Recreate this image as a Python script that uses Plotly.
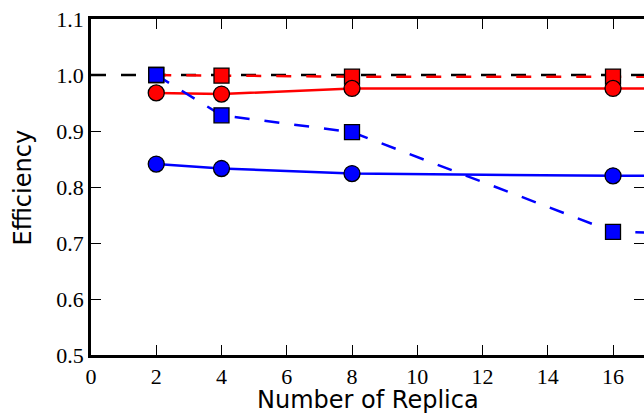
import plotly.graph_objects as go

replicas = [2, 4, 8, 16, 32]
red_solid = [0.968, 0.966, 0.976, 0.976, 0.976]
red_dashed = [1.0, 0.999, 0.997, 0.997, 0.997]
blue_dashed = [1.0, 0.928, 0.898, 0.720, 0.700]
blue_solid = [0.841, 0.833, 0.824, 0.820, 0.818]
ideal_x = [0, 40]
ideal_y = [1.0, 1.0]

x_ticks = [0, 2, 4, 6, 8, 10, 12, 14, 16]
y_ticks = [0.5, 0.6, 0.7, 0.8, 0.9, 1.0, 1.1]

x_title = "Number of Replica"
y_title = "Efficiency"

RED = "#ff0000"
BLUE = "#0000ff"
dash = "15px,15px"

fig = go.Figure()
fig.add_trace(go.Scatter(x=ideal_x, y=ideal_y, mode="lines",
                         line=dict(color="black", width=2.5, dash=dash), showlegend=False))
fig.add_trace(go.Scatter(x=replicas, y=red_dashed, mode="lines+markers",
                         line=dict(color=RED, width=2.5, dash=dash),
                         marker=dict(symbol="square", size=15, color=RED, line=dict(color="black", width=1.3)),
                         showlegend=False))
fig.add_trace(go.Scatter(x=replicas, y=red_solid, mode="lines+markers",
                         line=dict(color=RED, width=2.5),
                         marker=dict(symbol="circle", size=16, color=RED, line=dict(color="black", width=1.3)),
                         showlegend=False))
fig.add_trace(go.Scatter(x=replicas, y=blue_dashed, mode="lines+markers",
                         line=dict(color=BLUE, width=2.5, dash=dash),
                         marker=dict(symbol="square", size=15, color=BLUE, line=dict(color="black", width=1.3)),
                         showlegend=False))
fig.add_trace(go.Scatter(x=replicas, y=blue_solid, mode="lines+markers",
                         line=dict(color=BLUE, width=2.5),
                         marker=dict(symbol="circle", size=16, color=BLUE, line=dict(color="black", width=1.3)),
                         showlegend=False))
# invisible trace to activate the mirror axes
fig.add_trace(go.Scatter(x=[0], y=[0.5], xaxis="x2", yaxis="y2", mode="markers",
                         marker=dict(opacity=0), showlegend=False, hoverinfo="skip"))

common = dict(ticks="inside", ticklen=10, tickwidth=1.3, tickcolor="black",
              showgrid=False, zeroline=False, automargin=False)

fig.update_layout(
    width=644, height=416,
    margin=dict(l=91, r=0, t=19, b=61),
    font=dict(family="Liberation Serif", size=22, color="black"),
    plot_bgcolor="white", paper_bgcolor="white",
    xaxis=dict(range=[0, 16.95], tickmode="array", tickvals=x_ticks, ticktext=[str(v) for v in x_ticks],
               showline=True, linecolor="black", linewidth=2.5, mirror=False, **common),
    xaxis2=dict(overlaying="x", matches="x", side="top", tickmode="array", tickvals=x_ticks,
                showline=True, linecolor="black", linewidth=2.5,
                showticklabels=False, **common),
    yaxis=dict(range=[0.5, 1.1], tickmode="array", tickvals=y_ticks, ticktext=["%.1f" % v for v in y_ticks],
               showline=True, linecolor="black", linewidth=2.5, mirror=False, **common),
    yaxis2=dict(overlaying="y", matches="y", side="right", tickmode="array", tickvals=y_ticks,
                showline=False, showticklabels=False, **common),
    annotations=[
        dict(text=x_title, xref="paper", yref="paper", x=(368 - 91) / 553, y=(355 - 400) / 336,
             xanchor="center", yanchor="middle", showarrow=False,
             font=dict(family="DejaVu Sans", size=24, color="black")),
        dict(text=y_title, xref="paper", yref="paper", x=(22 - 91) / 553, y=(355 - 187.5) / 336,
             xanchor="center", yanchor="middle", showarrow=False, textangle=-90,
             font=dict(family="DejaVu Sans", size=24, color="black")),
    ],
)
fig.update_xaxes(tickfont=dict(family="Liberation Serif", size=22, color="black"))
fig.update_yaxes(tickfont=dict(family="Liberation Serif", size=22, color="black"))

fig.write_html("out.html", config={"displayModeBar": False},
               post_script="document.body.style.margin='0';document.body.style.overflow='hidden';")
